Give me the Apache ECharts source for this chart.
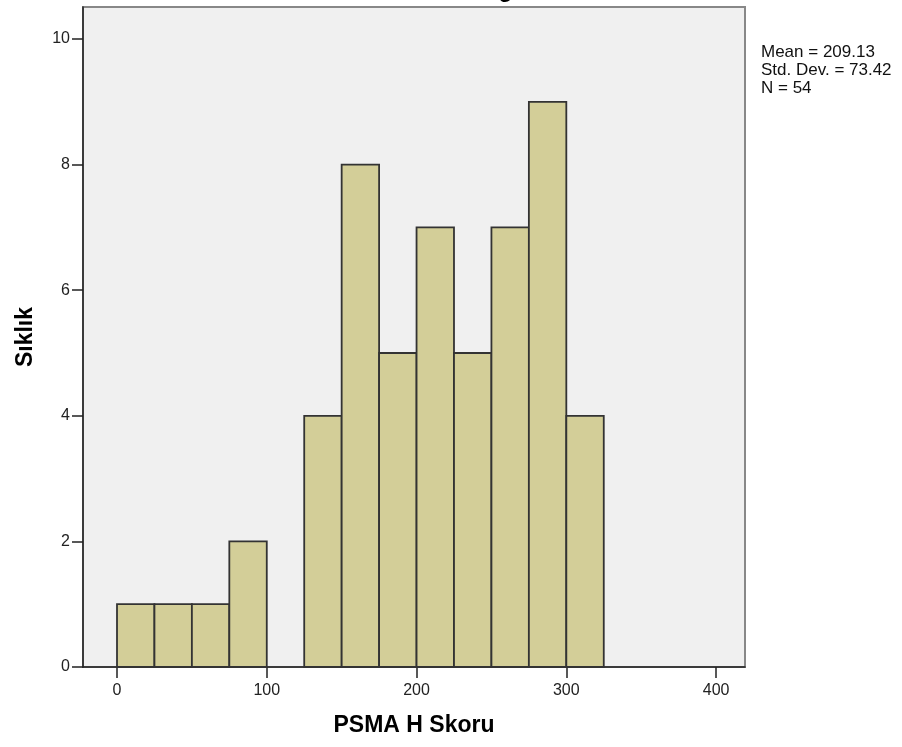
<!DOCTYPE html>
<html>
<head>
<meta charset="utf-8">
<script src="https://cdn.jsdelivr.net/npm/echarts@6/dist/echarts.min.js"></script>
<style>html,body{margin:0;padding:0;background:#fff}#c{width:902px;height:747px}</style>
</head>
<body>
<div id="c"></div>
<script>
// Histogram bins (PSMA H Skoru), bin width 25
var binStarts = [0, 25, 50, 75, 100, 125, 150, 175, 200, 225, 250, 275, 300];
var binWidth = 25;
var counts = [1, 1, 1, 2, 0, 4, 8, 5, 7, 5, 7, 9, 4];
var xTicks = [0, 100, 200, 300, 400];
var yTicks = [0, 2, 4, 6, 8, 10];
var statsLines = ['Mean = 209.13', 'Std. Dev. = 73.42', 'N = 54'];

var chart = echarts.init(document.getElementById('c'));
var data = binStarts.map(function (s, i) { return [s, s + binWidth, counts[i]]; });
var FONT = 'Liberation Sans';

chart.setOption({
  animation: false,
  title: {
    text: 'Histogram', left: 436, top: -26,
    textStyle: { fontFamily: FONT, fontWeight: 'bold', fontSize: 23, color: '#000' }
  },
  grid: {
    left: 83, right: 157, top: 7, bottom: 80,
    show: true, backgroundColor: '#f0f0f0', borderColor: '#888', borderWidth: 2
  },
  xAxis: {
    type: 'value', min: -22.7, max: 419.3,
    name: 'PSMA H Skoru', nameLocation: 'middle', nameGap: 47,
    nameTextStyle: { fontFamily: FONT, fontWeight: 'bold', fontSize: 23, color: '#000' },
    splitLine: { show: false },
    axisLine: { show: true, onZero: false, lineStyle: { color: '#222', width: 1.5 } },
    axisTick: { show: true, length: 11, customValues: xTicks, lineStyle: { color: '#222', width: 1.5 } },
    axisLabel: { customValues: xTicks, margin: 16, fontFamily: FONT, fontSize: 16, color: '#222' }
  },
  yAxis: {
    type: 'value', min: 0, max: 10.51,
    name: 'S\u0131kl\u0131k', nameLocation: 'middle', nameGap: 46, nameRotate: 90,
    nameTextStyle: { fontFamily: FONT, fontWeight: 'bold', fontSize: 23, color: '#000' },
    splitLine: { show: false },
    axisLine: { show: true, onZero: false, lineStyle: { color: '#222', width: 1.5 } },
    axisTick: { show: true, length: 11, customValues: yTicks, lineStyle: { color: '#222', width: 1.5 } },
    axisLabel: { customValues: yTicks, margin: 13, fontFamily: FONT, fontSize: 16, color: '#222' }
  },
  graphic: [{
    type: 'text', left: 761, top: 43,
    style: { text: statsLines.join('\n'), font: '17px "Liberation Sans"', lineHeight: 18, fill: '#111' }
  }],
  series: [{
    type: 'custom',
    data: data,
    encode: { x: [0, 1], y: 2 },
    renderItem: function (params, api) {
      var p0 = api.coord([api.value(0), 0]);
      var p1 = api.coord([api.value(1), api.value(2)]);
      var h = p0[1] - p1[1];
      if (h <= 0) return null;
      return {
        type: 'rect',
        shape: { x: p0[0], y: p1[1], width: p1[0] - p0[0], height: h },
        style: { fill: '#d3ce98', stroke: '#333', lineWidth: 1.8 }
      };
    }
  }]
});
</script>
</body>
</html>
